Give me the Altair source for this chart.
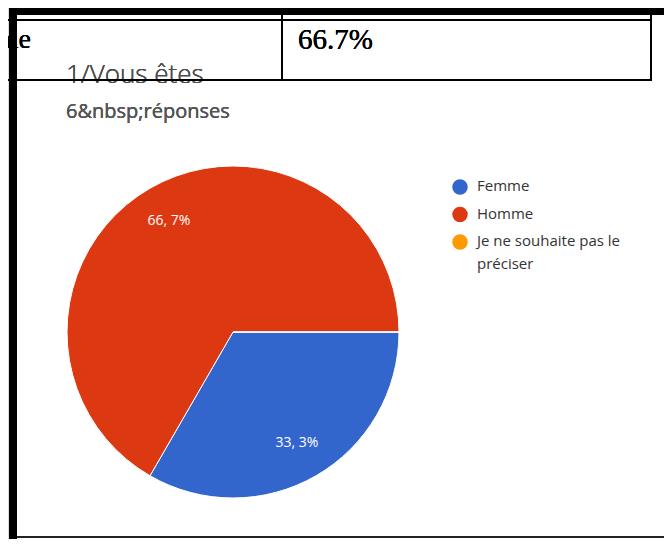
import math
import altair as alt
import pandas as pd

# ---- data ----
categories = ["Femme", "Homme", "Je ne souhaite pas le préciser"]
counts = [2, 4, 0]
pct_labels = ["33, 3%", "66, 7%", ""]
legend_text = ["Femme", "Homme", "Je ne souhaite pas le|préciser"]
colors = ["#3366cc", "#dc3912", "#ff9900"]

title_text = "1/Vous êtes"
subtitle_text = "6&nbsp;réponses"
table_left_text = "me"
table_right_text = "66.7%"

df = pd.DataFrame({
    "cat": categories,
    "count": counts,
    "pct": pct_labels,
    "leg": legend_text,
    "idx": list(range(len(categories))),
})

W, H = 656, 531
CX, CY, R = 225, 324, 166
FONT = "Open Sans"

base = alt.Chart(df)

theta = alt.Theta("count:Q", stack=True,
                  scale=alt.Scale(range=[math.pi / 2, math.pi / 2 + 2 * math.pi]))
color = alt.Color("cat:N", scale=alt.Scale(domain=categories, range=colors), legend=None)
order = alt.Order("idx:Q")

pie = base.mark_arc(outerRadius=R, stroke="white", strokeWidth=1).encode(
    theta=theta, color=color, order=order,
    x=alt.value(CX), y=alt.value(CY),
)

pie_labels = base.transform_filter("datum.count > 0").mark_text(
    radius=128, fontSize=14, font=FONT, color="white"
).encode(
    theta=theta, order=order, text="pct:N",
    x=alt.value(CX), y=alt.value(CY),
)

legend_y = alt.Y("cat:N", scale=alt.Scale(domain=categories, range=[179, 234], padding=0), axis=None)

legend_sym = base.mark_point(filled=True, shape="circle", size=240, opacity=1).encode(
    x=alt.value(452), y=legend_y, color=color,
)

legend_lbl = base.transform_calculate(lines="split(datum.leg, '|')").mark_text(
    align="left", baseline="top", dy=-8, fontSize=15, lineHeight=23, font=FONT, color="#333333"
).encode(
    x=alt.value(469), y=legend_y, text="lines:N",
)


def label(txt, x, y, size, color, font=FONT, align="left", weight=400):
    return alt.Chart(df).mark_text(
        align=align, baseline="middle", fontSize=size, font=font, color=color, fontWeight=weight
    ).encode(x=alt.value(x), y=alt.value(y), text=alt.value(txt))


def hline(x1, x2, y, w, c="black"):
    return alt.Chart(df).mark_rule(strokeWidth=w, color=c).encode(
        x=alt.value(x1), x2=alt.value(x2), y=alt.value(y))


def vline(x, y1, y2, w, c="black"):
    return alt.Chart(df).mark_rule(strokeWidth=w, color=c).encode(
        x=alt.value(x), y=alt.value(y1), y2=alt.value(y2))


title = label(title_text, 58, 67, 26, "#4d4d4d", weight=300)
subtitle = label(subtitle_text, 58, 104, 20, "#555555")

tbl_left = label(table_left_text, 23, 32, 28, "black", font="Liberation Serif", align="right")
tbl_right = label(table_right_text, 290, 32, 29, "black", font="Liberation Serif")

lines = [
    hline(-10, 644, 12, 2),
    hline(-10, 644, 72, 2),
    vline(274, -10, 73, 2),
    vline(643, -10, 73, 2),
    hline(1, 680, 3.5, 7),
    vline(5, 0, 545, 8),
    hline(9, 680, 529, 1.5, "#222222"),
]

chart = alt.layer(
    pie, pie_labels, legend_sym, legend_lbl, title, subtitle, tbl_left, tbl_right, *lines
).properties(
    width=W, height=H, padding=0, autosize="none"
).configure_view(stroke=None).configure(background="white")

chart.save("out.html", embed_options={"renderer": "svg", "actions": False})
